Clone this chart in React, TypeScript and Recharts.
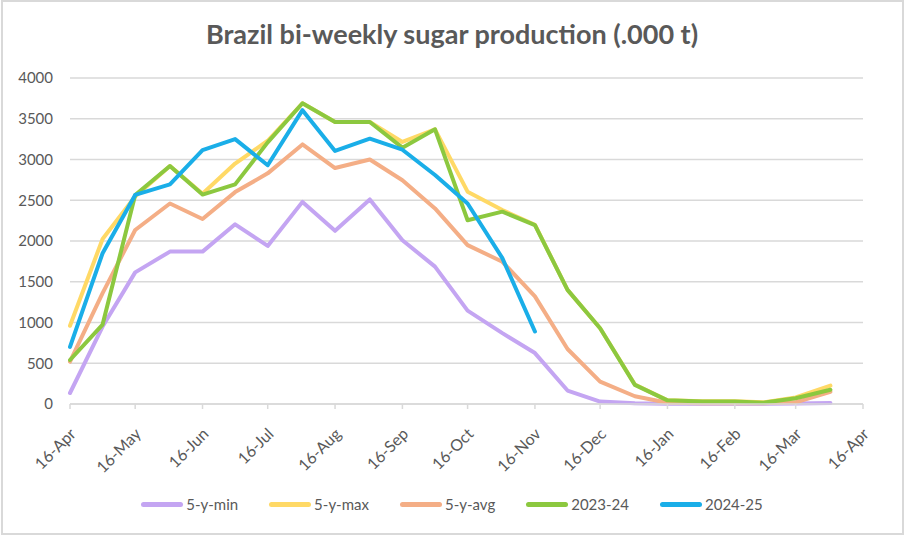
import React from "react";
import { LineChart, Line, XAxis, YAxis, CartesianGrid } from "recharts";

// x positions: days after 16-Apr (bi-weekly points)
const days = [0, 15, 30, 46, 61, 76, 91, 107, 122, 138, 153, 168, 183, 199, 214, 229, 244, 260, 275, 291, 306, 319, 334, 350];

const min5 = [135, 950, 1615, 1870, 1870, 2205, 1940, 2480, 2125, 2510, 2010, 1685, 1145, 870, 625, 165, 30, 8, 3, 2, 2, 2, 5, 12];
const max5 = [960, 2025, 2545, 2920, 2580, 2950, 3230, 3690, 3460, 3460, 3215, 3370, 2605, 2380, 2200, 1400, 930, 240, 45, 35, 35, 20, 80, 225];
const avg5 = [520, 1360, 2135, 2460, 2270, 2600, 2830, 3185, 2895, 3000, 2745, 2400, 1950, 1745, 1320, 675, 275, 95, 15, 10, 10, 8, 20, 150];
const s2324 = [540, 975, 2565, 2920, 2570, 2695, 3210, 3690, 3460, 3460, 3145, 3370, 2255, 2360, 2195, 1400, 930, 235, 45, 30, 30, 15, 70, 175];
const s2425 = [700, 1850, 2565, 2695, 3115, 3250, 2930, 3605, 3105, 3255, 3120, 2810, 2460, 1790, 890];

const tickDays = [0, 30, 61, 91, 122, 153, 183, 214, 244, 275, 306, 334, 365];
const tickLabels = ["16-Apr", "16-May", "16-Jun", "16-Jul", "16-Aug", "16-Sep", "16-Oct", "16-Nov", "16-Dec", "16-Jan", "16-Feb", "16-Mar", "16-Apr"];
const yTicks = [0, 500, 1000, 1500, 2000, 2500, 3000, 3500, 4000];

const seriesNames = ["5-y-min", "5-y-max", "5-y-avg", "2023-24", "2024-25"];
const seriesKeys = ["min5", "max5", "avg5", "s2324", "s2425"];
const seriesColors = ["#C4A5F2", "#FFD966", "#F4AE86", "#8CC83F", "#1AAEE8"];

const data = days.map((d, i) => ({
  day: d,
  min5: min5[i],
  max5: max5[i],
  avg5: avg5[i],
  s2324: s2324[i],
  s2425: i < s2425.length ? s2425[i] : null,
}));

const TEXT = "#595959";
const GRID = "#D9D9D9";
const FONT = "Lato, 'Open Sans', sans-serif";

const XTick = (props: any) => {
  const { x, y, payload } = props;
  const idx = tickDays.indexOf(payload.value);
  const label = idx >= 0 ? tickLabels[idx] : "";
  const ax = x + 7;
  const ay = y + 24;
  return (
    <text
      x={ax}
      y={ay}
      textAnchor="end"
      fill={TEXT}
      fontSize={16}
      fontFamily={FONT}
      transform={`rotate(-45, ${ax}, ${ay})`}
    >
      {label}
    </text>
  );
};

export default function App() {
  return (
    <div
      style={{
        position: "fixed",
        left: 0,
        top: 0,
        width: 904,
        height: 536,
        background: "#fff",
        fontFamily: FONT,
      }}
    >
      <div
        style={{
          position: "absolute",
          left: 1,
          top: 0,
          width: 899,
          height: 531,
          border: "2px solid #D9D9D9",
        }}
      />
      <div
        style={{
          position: "absolute",
          left: 0,
          top: 17,
          width: 904,
          textAlign: "center",
          fontSize: 27,
          fontWeight: 700,
          color: TEXT,
          fontFamily: FONT,
        }}
      >
        Brazil bi-weekly sugar production (.000 t)
      </div>
      <div style={{ position: "absolute", left: 0, top: 0 }}>
        <LineChart
          width={904}
          height={536}
          data={data}
          margin={{ top: 78, right: 41, bottom: 72, left: 10 }}
        >
          <CartesianGrid vertical={false} stroke={GRID} strokeWidth={1.5} />
          <XAxis
            type="number"
            dataKey="day"
            domain={[0, 365]}
            ticks={tickDays}
            interval={0}
            height={60}
            axisLine={{ stroke: GRID, strokeWidth: 1.5 }}
            tickLine={{ stroke: GRID, strokeWidth: 1.5 }}
            tickSize={5}
            tick={<XTick />}
          />
          <YAxis
            type="number"
            domain={[0, 4000]}
            ticks={yTicks}
            interval={0}
            width={60}
            axisLine={false}
            tickLine={false}
            tickMargin={11}
            tick={{ fill: TEXT, fontSize: 15, fontFamily: FONT }}
          />
          {seriesKeys.map((k, i) => (
            <Line
              key={k}
              type="linear"
              dataKey={k}
              name={seriesNames[i]}
              stroke={seriesColors[i]}
              strokeWidth={4}
              dot={false}
              activeDot={false}
              isAnimationActive={false}
              strokeLinejoin="round"
              strokeLinecap="round"
            />
          ))}
        </LineChart>
      </div>
      <div
        style={{
          position: "absolute",
          left: 0,
          top: 495,
          width: 904,
          display: "flex",
          justifyContent: "center",
          alignItems: "center",
          gap: 31,
          fontSize: 15,
          color: TEXT,
          fontFamily: FONT,
        }}
      >
        {seriesNames.map((n, i) => (
          <div key={n} style={{ display: "flex", alignItems: "center" }}>
            <div
              style={{
                width: 42,
                height: 5,
                borderRadius: 3,
                background: seriesColors[i],
                marginRight: 3,
              }}
            />
            <span>{n}</span>
          </div>
        ))}
      </div>
    </div>
  );
}
